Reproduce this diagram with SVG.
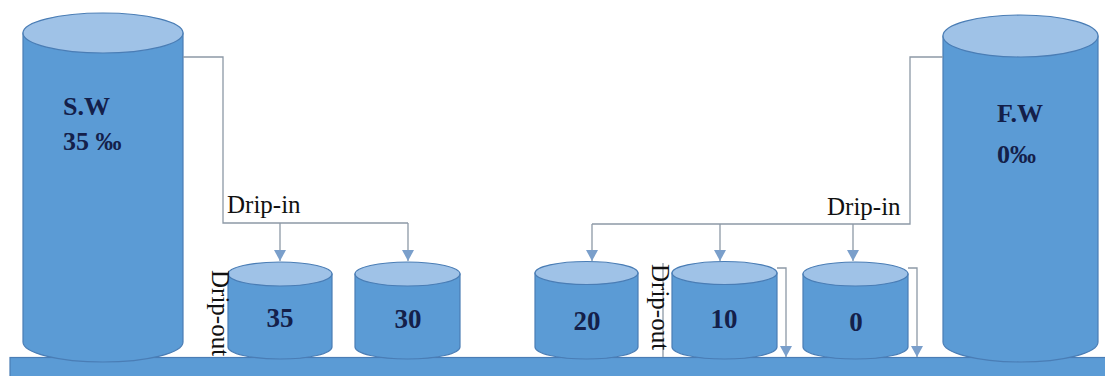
<svg xmlns="http://www.w3.org/2000/svg" width="1105" height="376" viewBox="0 0 1105 376">
  <defs>
    <style>
      .body { fill: #5b9bd5; stroke: #4a7db5; stroke-width: 1.2; }
      .lid { fill: #9fc2e7; stroke: #4a7db5; stroke-width: 1.2; }
      .wire { fill: none; stroke: #8d99a6; stroke-width: 1.3; }
      .head { fill: #7a9fcb; }
      .lbl { font-family: "Liberation Serif", "Times New Roman", "DejaVu Serif", serif; font-weight: bold; fill: #14204a; }
      .note { font-family: "Liberation Serif", "Times New Roman", "DejaVu Serif", serif; font-size: 25px; fill: #111; }
    </style>
    <!-- arrowhead drawn along +x so orient="auto" follows the line direction -->
    <marker id="arrow" viewBox="0 0 11 12" refX="11" refY="6" markerWidth="11" markerHeight="12" markerUnits="userSpaceOnUse" orient="auto">
      <path d="M0,0 L11,6 L0,12 Z" class="head"/>
    </marker>
  </defs>

  <rect width="1105" height="376" fill="#ffffff"/>

  <!-- base platform -->
  <rect id="platform" x="10" y="357.5" width="1100" height="20" fill="#5b9bd5" stroke="#4a7db5" stroke-width="1.2"/>

  <!-- salt water reservoir -->
  <g id="sw-tank">
    <path class="body" d="M23,33 L23,342 A80,20 0 0 0 183,342 L183,33 Z"/>
    <ellipse class="lid" cx="103" cy="33" rx="80" ry="20"/>
    <text class="lbl" x="63" y="115" font-size="26">S.W</text>
    <text class="lbl" x="63" y="150" font-size="26">35 ‰</text>
  </g>

  <!-- fresh water reservoir -->
  <g id="fw-tank">
    <path class="body" d="M943,36 L943,342 A77.5,20 0 0 0 1098,342 L1098,36 Z"/>
    <ellipse class="lid" cx="1020.5" cy="36" rx="77.5" ry="21"/>
    <text class="lbl" x="997" y="122" font-size="26">F.W</text>
    <text class="lbl" x="997" y="163" font-size="26">0‰</text>
  </g>

  <!-- salinity tanks -->
  <g id="tank-35">
    <path class="body" d="M228,274 L228,347 A52,12 0 0 0 332,347 L332,274 Z"/>
    <ellipse class="lid" cx="280" cy="274" rx="52" ry="12"/>
    <text class="lbl" x="280" y="327" font-size="27" text-anchor="middle">35</text>
  </g>
  <g id="tank-30">
    <path class="body" d="M355,274 L355,347 A52.5,12 0 0 0 460,347 L460,274 Z"/>
    <ellipse class="lid" cx="407.5" cy="274" rx="52.5" ry="12"/>
    <text class="lbl" x="408" y="328" font-size="27" text-anchor="middle">30</text>
  </g>
  <g id="tank-20">
    <path class="body" d="M535,273 L535,347 A51.5,12 0 0 0 638,347 L638,273 Z"/>
    <ellipse class="lid" cx="586.5" cy="273" rx="51.5" ry="11.5"/>
    <text class="lbl" x="587" y="330" font-size="27" text-anchor="middle">20</text>
  </g>
  <g id="tank-10">
    <path class="body" d="M672,273 L672,347 A52.5,12 0 0 0 777,347 L777,273 Z"/>
    <ellipse class="lid" cx="724.5" cy="273" rx="52.5" ry="11.5"/>
    <text class="lbl" x="724" y="328" font-size="27" text-anchor="middle">10</text>
  </g>
  <g id="tank-0">
    <path class="body" d="M803,274 L803,347 A52.5,12 0 0 0 908,347 L908,274 Z"/>
    <ellipse class="lid" cx="855.5" cy="274" rx="52.5" ry="12"/>
    <text class="lbl" x="856" y="331" font-size="27" text-anchor="middle">0</text>
  </g>

  <!-- connectors -->
  <g id="connectors">
    <!-- salt water feed -->
    <path class="wire" d="M183,57 L223,57 L223,223 L408,223"/>
    <path class="wire" d="M280,223 L280,261" marker-end="url(#arrow)"/>
    <path class="wire" d="M408,223 L408,261" marker-end="url(#arrow)"/>
    <!-- fresh water feed -->
    <path class="wire" d="M943,57 L910,57 L910,224 L592,224"/>
    <path class="wire" d="M592,224 L592,261" marker-end="url(#arrow)"/>
    <path class="wire" d="M720,224 L720,261" marker-end="url(#arrow)"/>
    <path class="wire" d="M853,224 L853,261" marker-end="url(#arrow)"/>
    <!-- overflow outlets -->
    <path class="wire" d="M777,268 L786,268 L786,357" marker-end="url(#arrow)"/>
    <path class="wire" d="M908,268 L917,268 L917,357" marker-end="url(#arrow)"/>
    <path class="wire" d="M663,263 L663,357"/>
  </g>

  <!-- flow labels -->
  <g id="labels">
    <text class="note" x="227" y="213">Drip-in</text>
    <text class="note" x="827" y="215">Drip-in</text>
    <text class="note" transform="translate(212,270) rotate(90)" font-size="23">Drip-out</text>
    <text class="note" transform="translate(652,264) rotate(90)" font-size="23">Drip-out</text>
  </g>
</svg>
